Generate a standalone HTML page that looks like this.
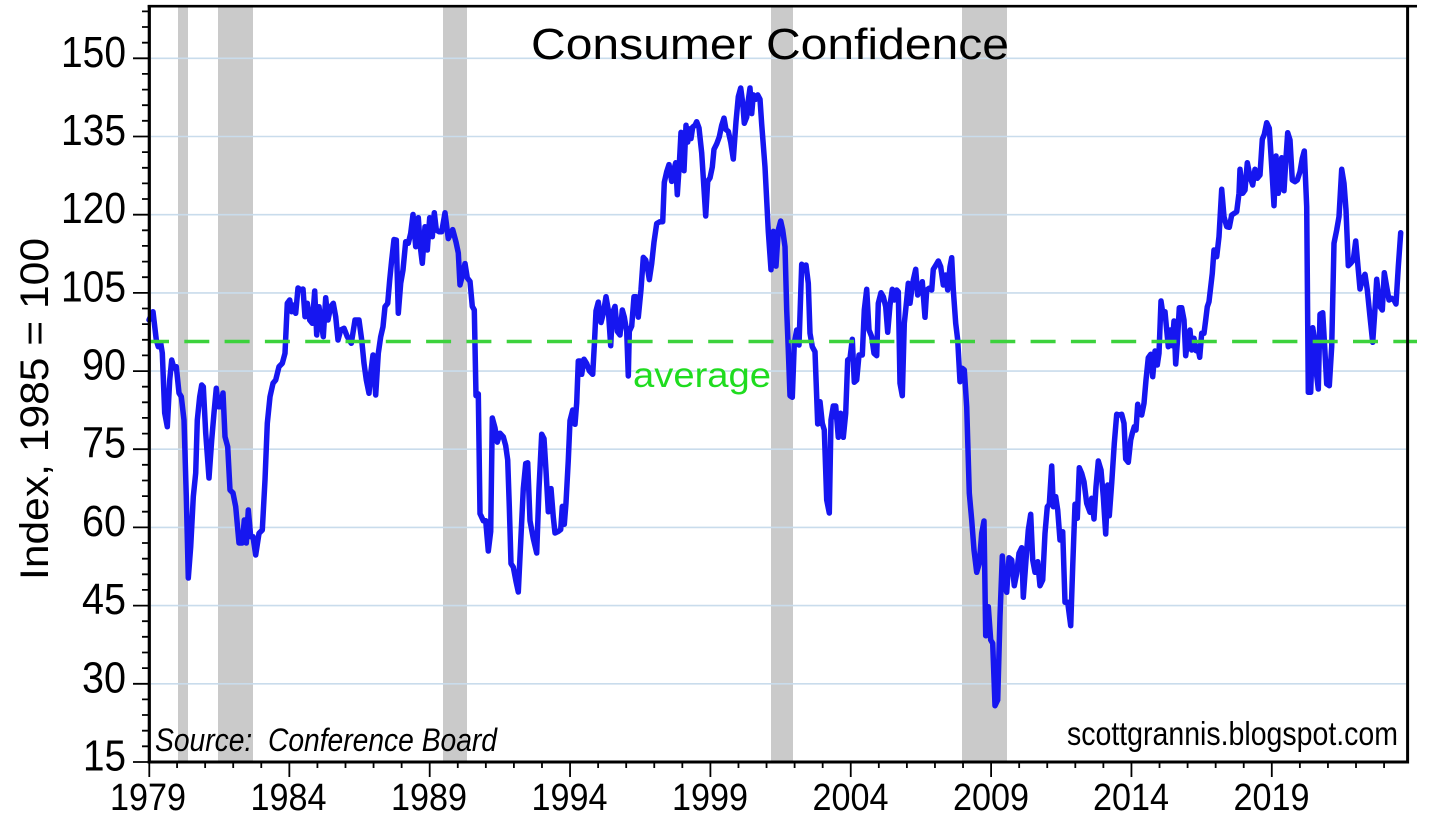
<!DOCTYPE html>
<html>
<head>
<meta charset="utf-8">
<style>
html,body{margin:0;padding:0;background:#fff;}
svg{display:block;}
text{font-family:"Liberation Sans",sans-serif;fill:#000;}
</style>
</head>
<body>
<svg width="1430" height="831" viewBox="0 0 1430 831" xmlns="http://www.w3.org/2000/svg">
<rect x="0" y="0" width="1430" height="831" fill="#fff"/>
<!-- recession bars -->
<g fill="#cacaca">
<rect x="178" y="6" width="10" height="756"/>
<rect x="218" y="6" width="35" height="756"/>
<rect x="443" y="6" width="24" height="756"/>
<rect x="771" y="6" width="22" height="756"/>
<rect x="962" y="6" width="45" height="756"/>
</g>
<!-- gridlines -->
<g stroke="#c9dcec" stroke-width="1.6">
<line x1="151" y1="58.3" x2="1406" y2="58.3"/>
<line x1="151" y1="136.5" x2="1406" y2="136.5"/>
<line x1="151" y1="214.7" x2="1406" y2="214.7"/>
<line x1="151" y1="292.9" x2="1406" y2="292.9"/>
<line x1="151" y1="371.1" x2="1406" y2="371.1"/>
<line x1="151" y1="449.2" x2="1406" y2="449.2"/>
<line x1="151" y1="527.4" x2="1406" y2="527.4"/>
<line x1="151" y1="605.6" x2="1406" y2="605.6"/>
<line x1="151" y1="683.8" x2="1406" y2="683.8"/>
</g>
<!-- data line -->
<polyline fill="none" stroke="#1616f0" stroke-width="5.5" stroke-linejoin="round" stroke-linecap="round" points="
149,320 153,311.7 156.3,340 158.3,346.7 160.7,343 162.3,353 164.7,413 167.3,426.7 169.7,380 171.7,360 174,368 176.3,366.7 179,393 181.3,396.7 184,420 186.3,496.7 188.3,578 190.7,546.7 193.3,496.7 195.7,473 197.3,420 199.7,396.7 201.7,385 203.3,386.7 205.7,433 209,478 211.7,440 214,413 216.3,388.3 218.3,406.7 220.7,406.7 223,393 225,436.7 227.7,446.7 230,490 233,493 235.7,506.7 239,543 242.3,543 244.3,520 246.3,543 248.3,510 250.7,536.7 253,536.7 255.7,555 259,533.3 262.3,530 265,480 267.3,423.3 270,396.7 273,383.3 275.7,380 279,366.7 282.3,363.3 285,353.3 287.3,303.3 289.7,300 291.7,311.7 294,305 295.7,313.3 298,288 300.7,290 303,289 305,316.7 307.3,303.3 309.7,320 312.3,323.3 314.7,291 316.7,335 319,306.7 321.3,323.3 323.3,336.7 325.7,297.7 328,320 330.7,306.7 333.3,303.3 335.7,316.7 338,340 340.7,330 344,328.3 347.3,336.7 351.3,343.3 355,320 359,320 361.7,340 364,363.3 366.3,380 369,393.3 370.7,373.3 373,355 375.7,395 378.3,353.3 380.7,336.7 383,326.7 385,306.7 387.7,303.3 389.7,280 391.7,260 394,239.5 396.3,240 398.3,313.3 400.7,283.3 403,270 405.7,241.7 408.3,243.3 410.7,233.3 413,214.5 415.7,246.7 418.3,217.7 420.3,246.7 422.3,263.3 425,226.7 427.3,250 429.7,217.7 432.3,236.7 434.3,212.7 436.3,230 439,231.7 441.7,231.7
445,212.8 448.3,238.6 452.7,229.6 456,242 458.3,252.9 460,285 462.7,274.3 465,263.6 467.3,277.9 470,281.4 472.3,306.4 474.3,310 476,395.7 478.3,393.9 480,513.6 483.3,520.7 485.7,520.7 488.3,551 490.7,531.4 492.3,418 495,427.9 497.3,442.1 500,433.2 503.3,436.8 505.7,445.7 507.7,460 509.3,506.4 511,563.6 513.3,567.1 516,581.4 518.3,592 520.7,542.1 523.3,488.6 525.7,463.6 527.7,462.8 530,520.7 533.3,538.6 536.7,553 539,488.6 541.7,434.2 544,438.6 546,470.7 548.3,511.8 551,488.6 553.3,517.1 555,533 558.3,531.4 560.7,529.6 562.3,506.4 564.3,524.3 566,502.9 568.3,460 570,420.7 572.7,410 575,424.3 576.7,402.9 578.3,361 580,361 581.7,374.3 584,359.2 586.7,363.6 589.3,370.7 592.7,374.3 594.3,345.7 596,311 598.3,302.1 601,322.5 603.3,313.6 606,296.7 608.3,310 610.7,345.7 612.3,313.6 615,306.4 617.3,331.4 620,335 622.3,310 624.3,317.1 626.7,331.4 628.3,376 629.3,331.4 631.7,326.1 634,296.7 636,296.7 638.3,317.1 641,289.6 643.3,257.4 645.7,260 647.3,267.1 649.3,279.6 651.7,263.6 654,242.1 656.7,223.5 660,221.7 662.7,221.7 664.3,182.4 666.7,171.7 669,164.6 671.7,181.4 673.3,171.7 675.7,162.8 677.3,194.7 679.3,164.6 681,132.4 682.7,149.3 684,170.7 686,125.3 687.7,142.1 689.3,128.9 691,138.6 692.7,127.1 695,125.3 696.7,121.7 699,127.9 701.7,152.9 703.3,177.9 705.7,216 707.7,181.4 710,177.9 712.3,167.1 714,149.3 716.7,143.9 719.3,136.8 721.7,125.3 724,118.1 726,129.6 728.3,131.4 730.7,142.1 733.3,159 736,121.7 738.3,96.7 740.7,88 742.7,102.9 744.3,123.3 746.7,117.1 748.3,100.3 750,88 751.7,113.6 753.3,94.9 755.7,99.3 757.7,94.9 760,99.3 761.7,124.3 765,167.1 768.3,231.4 771,269.7 773.3,231.4 776,266.1
778.3,230 780.7,221 782.7,230 785,246.7 786.7,310 788.3,350 790,395.7 792.3,397.3 794.3,343.3 796.7,330 799,345 801.7,264.3 804.3,266.7 806,265 808.3,283.3 810,333.3 812.3,346.7 815,351.7 817.7,424 820,401.7 822.3,423.3 824.3,430 826.7,500 829.3,513 831,420 833.3,406 835.7,406 838.3,437.3 840.7,413.3 843.3,437.3 845.7,413.3 847.7,360 850,358.3 852.3,339.3 854.3,382.3 856.7,380 859,355 862.3,355 864.3,310 866.7,289.3 869,330 871.7,336.7 874,353.3 876.7,355.7 878.3,303.3 881,292.7 883.3,296.7 885.7,306.7 887.7,332.3 890,305 892.3,289.3 894.3,300 896.7,290 898.3,291.7 900,383.3 902.3,395.7 904.3,323.3 906.7,300 908.3,283.3 910,303.3 911.7,290 913.3,280 915.7,269.3 917.7,295 920,290 922.3,281.7 925,317.3 926.7,290 929,288.3 931.7,290 933.3,269.3 936,265 938.3,261 940.7,266.7 943.3,285 945.7,275 947.7,290 950,266.7 951.7,257.7 953.3,290 955.7,323.3 957.7,340 960,381.7 962.3,368.3 964.3,370 966.7,406.7 969.3,493.3 971.7,520 974,550 976.7,572.3 979.3,563.3 981.7,533.3 984,521 985.7,635.7 988.3,606.7 990.7,640 992.7,643.3 995,705.7 997.7,700 1000,616.7 1002.3,556 1004.3,583.3 1006.7,592.3 1009,557.7 1011.7,560 1014.3,585.7 1016.7,573.3 1019,553.3 1021.7,547.7 1023.3,597.3 1026,560 1028.3,530 1030.7,514.3 1032.7,560 1035,572.3 1037.7,561.7 1040,585.7 1042.7,580 1045,533.3 1047.3,506.7 1049.3,504.3 1051.7,466 1053.3,506.7 1055.7,496.7 1057.7,510 1060,540 1062.7,531.7 1065,602.3 1067.7,602.3 1070.7,625.7 1072.7,566.7 1075,504.3 1077.3,518.3 1079.3,467.7 1081.7,473.3 1084,481.7 1086.7,503.3
1090,512.3 1091.7,498.3 1094,519 1096,486.7 1098.3,461 1101,470 1103.3,496.7 1105.7,534 1107.7,485 1109.3,515.7 1111.7,483.3 1114.3,443.3 1116.7,414.3 1119,415 1121.7,414.3 1124,423.3 1125.7,459 1128.3,462.3 1130.7,440 1132.3,433.3 1134.3,426.7 1136,430 1137.7,404.3 1139.3,413.3 1141.7,415 1144,403.3 1146,380 1148.3,357.7 1150.7,354.3 1152.7,376.7 1155,351 1157.3,365 1159,353.3 1161,301 1163.3,316.7 1165,311.7 1166.7,330 1168.3,346.7 1170.3,330 1172.3,345.7 1174,321 1175.7,364 1177.3,343.3 1179.3,307.7 1181.7,307.7 1184,320 1185.7,355.7 1187.7,340 1190,330 1191.7,350 1194,338.3 1196,350.7 1197.7,346.7 1199.7,357.3 1201.7,333.3 1204,333.3 1205.7,320 1207.3,306.7 1209,301.7
1212.3,273.3 1214,250 1216.7,256.7 1219,236.7 1221.7,189.3 1224,216.7 1226.7,226.7 1229.3,227.3 1231.7,215 1234.3,213.3 1236.7,211.7 1239,193.3
1240,169.3 1242.7,193.3 1245,190 1247.3,162.7 1250,176.7 1252.7,185 1255,169.3 1257.3,178.3 1260,175 1262.3,139.3 1264.3,134.3 1266.7,122.7 1269.3,128.3 1271.7,166.7 1274,205.7 1276,156 1278.3,193.3 1280,176.7 1281.7,157.7 1284,190.7 1286,157.7 1287.7,132.7 1290,140 1292.3,180 1295,181.7 1297.3,180 1300,171.7 1302.3,158.3 1304.3,151 1306.7,206.7 1308.3,392.3 1310.7,392.3 1312.7,327.7 1314.7,340 1316.3,372.3 1318.3,389 1320,314.3 1322.7,312.7 1324.3,340 1326.7,384 1329.3,385.7 1331.7,346.7 1334,243.3 1336.7,230 1339,216.7 1341.7,169.3 1344,183.3 1346,210 1348.3,265.7 1350.7,263.3 1353.3,260 1355.7,241 1357.7,263.3 1360,289 1362.3,280 1365,274.3 1367.3,290 1370,316.7 1372.7,342.3 1374.7,313.3 1376.7,279.3 1378.3,293.3 1380,306.7 1382.3,310 1384.3,272.7 1386.7,286.7 1389,300 1391.7,298.3 1394,300 1396,304 1398.3,266.7 1400.7,232.7"/>
<!-- average dashed line -->
<line x1="149" y1="341.5" x2="1417" y2="341.5" stroke="#3cd23c" stroke-width="3.5" stroke-dasharray="25 15.3" stroke-dashoffset="5"/>
<!-- frame -->
<g stroke="#000" fill="none">
<line x1="149.3" y1="5" x2="149.3" y2="763.5" stroke-width="3.2"/>
<line x1="147.7" y1="762" x2="1409" y2="762" stroke-width="3"/>
<line x1="1407.6" y1="5" x2="1407.6" y2="763.5" stroke-width="3"/>
<line x1="147.7" y1="6.2" x2="1417" y2="6.2" stroke-width="2.6"/>
</g>
<!-- y ticks -->
<path stroke="#000" stroke-width="1.8" fill="none" d="
M133 58.3H149 M133 136.5H149 M133 214.7H149 M133 292.9H149 M133 371.1H149 M133 449.2H149 M133 527.4H149 M133 605.6H149 M133 683.8H149 M133 762H149
M142 746.3H149 M142 730.7H149 M142 715H149 M142 699.4H149 M142 668.1H149 M142 652.5H149 M142 636.8H149 M142 621.2H149
M142 589.9H149 M142 574.3H149 M142 558.7H149 M142 543H149 M142 511.7H149 M142 496.1H149 M142 480.5H149 M142 464.8H149
M142 433.6H149 M142 417.9H149 M142 402.3H149 M142 386.7H149 M142 355.4H149 M142 339.8H149 M142 324.1H149 M142 308.5H149
M142 277.2H149 M142 261.6H149 M142 245.9H149 M142 230.3H149 M142 199H149 M142 183.4H149 M142 167.8H149 M142 152.1H149
M142 120.8H149 M142 105.2H149 M142 89.6H149 M142 73.9H149 M142 42.7H149 M142 27H149 M142 11.4H149"/>
<!-- x ticks -->
<path stroke="#000" stroke-width="1.8" fill="none" d="
M149.3 762V777 M289.35 762V777 M429.7 762V777 M570.05 762V777 M710.4 762V777 M850.75 762V777 M991.1 762V777 M1131.45 762V777 M1271.8 762V777
M177.07 762V768 M205.14 762V768 M233.21 762V768 M261.28 762V768 M317.42 762V768 M345.49 762V768 M373.56 762V768 M401.63 762V768
M457.77 762V768 M485.84 762V768 M513.91 762V768 M541.98 762V768 M598.12 762V768 M626.19 762V768 M654.26 762V768 M682.33 762V768
M738.47 762V768 M766.54 762V768 M794.61 762V768 M822.68 762V768 M878.82 762V768 M906.89 762V768 M934.96 762V768 M963.03 762V768
M1019.17 762V768 M1047.24 762V768 M1075.31 762V768 M1103.38 762V768 M1159.52 762V768 M1187.59 762V768 M1215.66 762V768 M1243.73 762V768
M1299.87 762V768 M1327.94 762V768 M1356.01 762V768 M1384.08 762V768"/>
<!-- y tick labels -->
<g font-size="44" text-anchor="end">
<text x="126" y="66.8" textLength="65" lengthAdjust="spacingAndGlyphs">150</text>
<text x="126" y="145" textLength="65" lengthAdjust="spacingAndGlyphs">135</text>
<text x="126" y="223.2" textLength="65" lengthAdjust="spacingAndGlyphs">120</text>
<text x="126" y="301.4" textLength="65" lengthAdjust="spacingAndGlyphs">105</text>
<text x="126" y="379.6" textLength="44" lengthAdjust="spacingAndGlyphs">90</text>
<text x="126" y="457.7" textLength="44" lengthAdjust="spacingAndGlyphs">75</text>
<text x="126" y="535.9" textLength="44" lengthAdjust="spacingAndGlyphs">60</text>
<text x="126" y="614.1" textLength="44" lengthAdjust="spacingAndGlyphs">45</text>
<text x="126" y="692.3" textLength="44" lengthAdjust="spacingAndGlyphs">30</text>
<text x="126" y="770.5" textLength="43" lengthAdjust="spacingAndGlyphs">15</text>
</g>
<!-- x tick labels -->
<g font-size="38" text-anchor="middle">
<text x="148" y="810" textLength="76" lengthAdjust="spacingAndGlyphs">1979</text>
<text x="288.5" y="810" textLength="76" lengthAdjust="spacingAndGlyphs">1984</text>
<text x="429" y="810" textLength="76" lengthAdjust="spacingAndGlyphs">1989</text>
<text x="569.5" y="810" textLength="76" lengthAdjust="spacingAndGlyphs">1994</text>
<text x="710" y="810" textLength="76" lengthAdjust="spacingAndGlyphs">1999</text>
<text x="850.5" y="810" textLength="76" lengthAdjust="spacingAndGlyphs">2004</text>
<text x="991" y="810" textLength="76" lengthAdjust="spacingAndGlyphs">2009</text>
<text x="1131" y="810" textLength="76" lengthAdjust="spacingAndGlyphs">2014</text>
<text x="1271.5" y="810" textLength="76" lengthAdjust="spacingAndGlyphs">2019</text>
</g>
<!-- axis title -->
<text transform="translate(48,409) rotate(-90)" font-size="40" text-anchor="middle" textLength="342" lengthAdjust="spacingAndGlyphs">Index, 1985 = 100</text>
<!-- chart title -->
<text x="531" y="59" font-size="44" textLength="478" lengthAdjust="spacingAndGlyphs">Consumer Confidence</text>
<!-- average label -->
<text x="633" y="387" font-size="35" textLength="138" lengthAdjust="spacingAndGlyphs" style="fill:#1fdc1f">average</text>
<!-- source -->
<text x="155" y="751" font-size="32" font-style="italic" textLength="342" lengthAdjust="spacingAndGlyphs">Source:&#160; Conference Board</text>
<text x="1398" y="745" font-size="33" text-anchor="end" textLength="331" lengthAdjust="spacingAndGlyphs">scottgrannis.blogspot.com</text>
</svg>
</body>
</html>
